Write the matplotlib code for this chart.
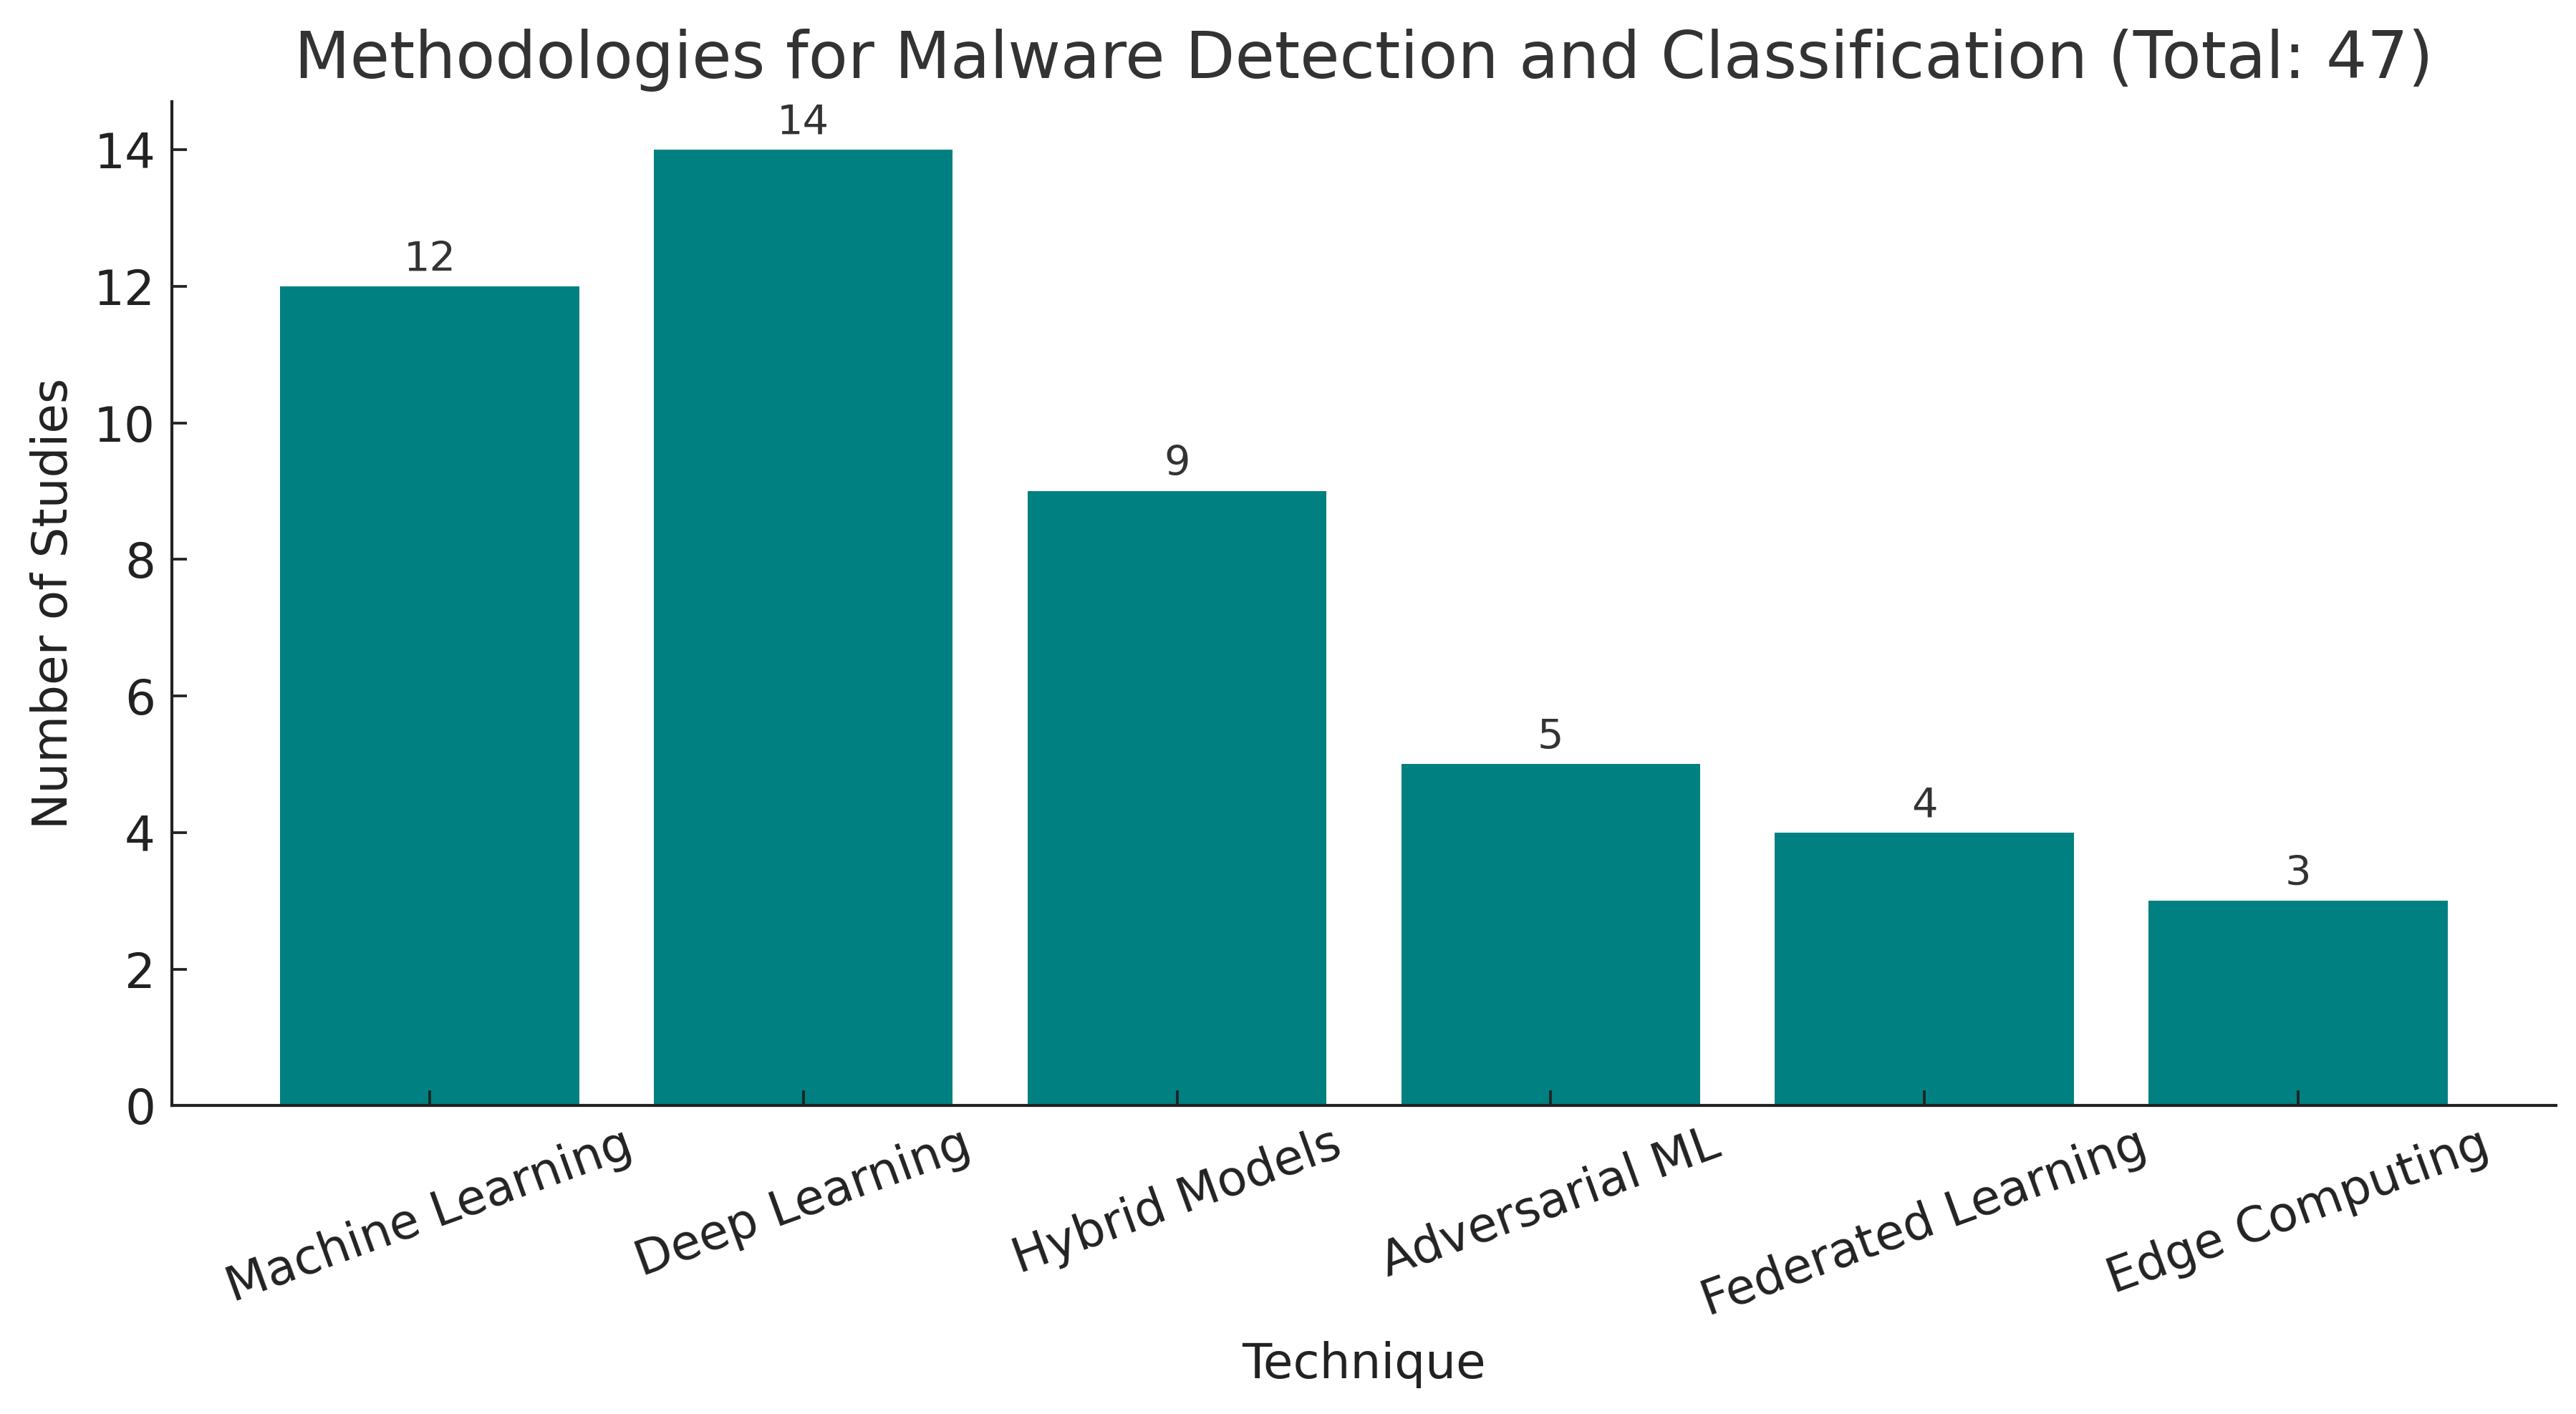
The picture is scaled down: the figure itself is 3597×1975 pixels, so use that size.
import matplotlib
matplotlib.use("Agg")
import matplotlib.pyplot as plt

techniques = ["Machine Learning", "Deep Learning", "Hybrid Models",
              "Adversarial ML", "Federated Learning", "Edge Computing"]
studies = [12, 14, 9, 5, 4, 3]

fig = plt.figure(figsize=(3597 / 300, 1975 / 300), dpi=300)
ax = fig.add_axes([0.0667, 0.218, 0.9255, 0.71])

bars = ax.bar(techniques, studies, color="#008080", width=0.8)

# value labels on top of bars
for b, v in zip(bars, studies):
    ax.text(b.get_x() + b.get_width() / 2, v + 0.1, str(v),
            ha="center", va="bottom", fontsize=13.8, color="#333333")

ax.set_title(f"Methodologies for Malware Detection and Classification (Total: {sum(studies)})",
             fontsize=21.6, color="#333333", pad=8)
ax.set_xlabel("Technique", fontsize=16.2, color="#222222", labelpad=5)
ax.set_ylabel("Number of Studies", fontsize=16.2, color="#222222", labelpad=5.5)

ax.spines["top"].set_visible(False)
ax.spines["right"].set_visible(False)
for s in ("left", "bottom"):
    ax.spines[s].set_linewidth(1.0)
    ax.spines[s].set_color("#222222")

ax.tick_params(direction="in", length=5, width=0.9, labelsize=16.2,
               colors="#222222")
ax.tick_params(axis="y", pad=5.5)
ax.tick_params(axis="x", pad=5)
plt.setp(ax.get_xticklabels(), rotation=20)

fig.savefig("out.png", dpi=300)
